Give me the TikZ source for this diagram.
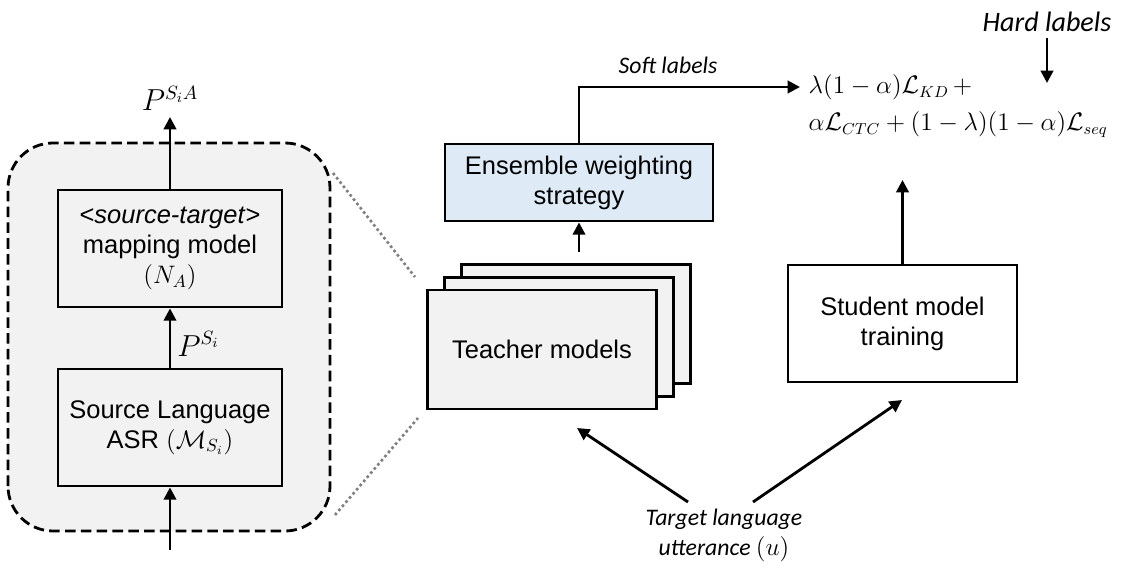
\documentclass[tikz,border=0pt]{standalone}
\usepackage{fontspec}
\usepackage{amsmath}
\setsansfont{Liberation Sans}
\newfontfamily\notefont{Carlito}
\usetikzlibrary{arrows.meta}

\definecolor{boxgray}{HTML}{F2F2F2}
\definecolor{boxblue}{HTML}{DEEBF7}

\begin{document}
\begin{tikzpicture}[
  box/.style={draw, line width=1.6pt, fill=boxgray, minimum width=4.48cm, minimum height=2.34cm,
    align=center, inner sep=2pt, font=\sffamily\fontsize{14.5}{17}\selectfont},
  link/.style={line width=1.6pt, -{Triangle[length=7pt,width=7pt]}},
  note/.style={font=\notefont\itshape\fontsize{13.5}{17}\selectfont, align=center},
  lbl/.style={font=\fontsize{16}{19}\selectfont},
  zoomline/.style={gray, line width=1.5pt, dash pattern=on 1.5pt off 1.6pt}
]
\useasboundingbox (0,0) rectangle (22.52,11.66);

% source side
\draw[line width=1.6pt, dash pattern=on 6pt off 3pt, fill=boxgray, rounded corners=0.9cm]
  (0.16,1.04) rectangle (6.6,8.8);

\node[box] (map) at (3.4,6.69) {<\textit{source-target}>\\mapping model\\$(N_A)$};
\node[box] (asr) at (3.4,3.11) {Source Language\\ASR $(\mathcal{M}_{S_i})$};
\coordinate (srcin) at (3.4,0.66);
\coordinate (srcout) at (3.4,9.32);

\draw[link] (srcin) -- (asr);
\draw[link] (asr) -- node[lbl, pos=0.4, right] {$P^{S_i}$} (map);
\draw[link] (map) -- (srcout);
\node[lbl, above] (psa) at (srcout) {$P^{S_iA}$};

% zoom lines
\coordinate (zta) at (6.66,8.2);
\coordinate (ztb) at (8.3,6.12);
\coordinate (zba) at (6.7,1.36);
\coordinate (zbb) at (8.36,3.3);
\draw[zoomline] (zta) -- (ztb);
\draw[zoomline] (zba) -- (zbb);

% teachers
\node[box, minimum width=4.58cm, minimum height=2.38cm] (t3) at (11.52,5.18) {};
\node[box, minimum width=4.58cm, minimum height=2.38cm] (t2) at (11.18,4.92) {};
\node[box, minimum width=4.58cm, minimum height=2.38cm] (t1) at (10.84,4.67) {Teacher models};

\node[box, fill=boxblue, minimum width=5.36cm, minimum height=1.54cm] (ens) at (11.58,8.01)
  {Ensemble weighting\\strategy};
\coordinate (tout) at (11.58,6.62);
\draw[link] (tout) -- (ens);

% loss
\node[anchor=west, align=left, font=\fontsize{13.5}{17}\selectfont] (loss) at (16.05,9.54)
  {$\lambda(1-\alpha)\mathcal{L}_{KD}\,+$\\[4pt]
   $\alpha\mathcal{L}_{CTC}+(1-\lambda)(1-\alpha)\mathcal{L}_{seq}$};
\coordinate (soft) at (16.0,9.92);
\draw[link] (ens.north) |- (soft);
\node[note] (softlbl) at (13.36,10.36) {Soft labels};

\node[note, font=\notefont\itshape\fontsize{16}{19}\selectfont] (hard) at (20.94,11.22) {Hard labels};
\coordinate (hardend) at (20.94,10.0);
\draw[link] (hard.south) -- (hardend);

% student
\node[box, fill=white, minimum width=4.58cm] (stu) at (18.05,5.19) {Student model\\training};
\coordinate (stuout) at (18.05,8.06);
\draw[link] (stu.north) -- (stuout);

% input
\node[note] (tgt) at (14.48,0.96) {Target language\\utterance $(u)$};
\coordinate (tgtl) at (13.76,1.62);
\coordinate (tgtr) at (15.06,1.62);
\coordinate (tin) at (11.54,3.1);
\coordinate (sin) at (18.04,3.66);
\draw[link] (tgtl) -- (tin);
\draw[link] (tgtr) -- (sin);
\end{tikzpicture}
\end{document}
